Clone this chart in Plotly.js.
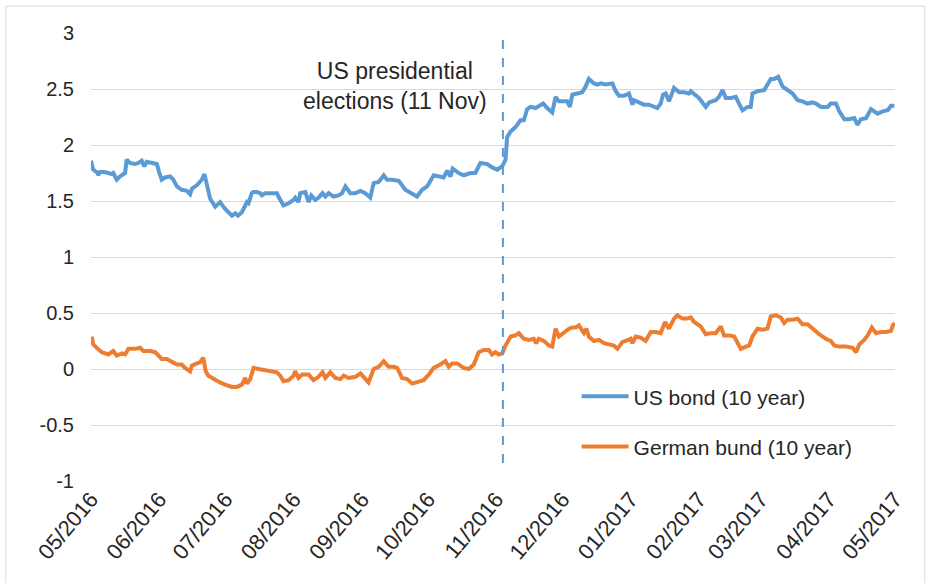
<!DOCTYPE html>
<html>
<head>
<meta charset="utf-8">
<script src="https://cdn.plot.ly/plotly-3.0.1.min.js"></script>
<style>html,body{margin:0;padding:0;background:#fff;}#chart{width:931px;height:583px;}</style>
</head>
<body>
<div id="chart"></div>
<script>
// Days since 2016-05-01 and yields (%)
const startDate = '2016-05-01';
const usDays = [0,1,3,3.3,4.1,5.6,7.9,9.4,10.1,11.7,13.2,15.5,16.2,17.7,20,21.5,23,24.2,25.3,27.6,29.9,30.9,32.1,33.6,35.9,37.4,39,41.2,43.5,45,45.8,48,49.5,50.3,51.5,52.6,54.1,56.4,58.6,60.9,64,65.5,66.7,68.5,70,70.8,71.5,73,73.8,75.3,76.8,77.6,79.1,84.4,85.1,87.4,89.7,92,92.7,94.2,95,97.3,98.8,100,101.8,103.3,105.1,106.4,107.9,110.1,112.4,114,115.5,117.7,120,122.3,124.5,126.8,128.3,130.6,132.9,134.4,136.7,139.7,142.7,145.8,148,150.3,152.6,155.6,158.6,160.1,161.7,163.2,164.2,166.9,169.2,172.3,174.5,176.8,179.9,182.1,184.4,186.7,188.2,188.9,190.5,192.7,195,196.5,198,199.5,201.8,204.1,205.3,207.1,209.4,210.9,212.4,214.7,216.2,217.4,218.5,220.8,223,224.5,226,228.3,229.9,231.4,233.6,236.7,238.2,239.7,242,244.2,245.8,246.5,248.8,251,253.3,255.6,257.1,258.6,259.7,260.9,262.4,264.7,267,269.2,271.5,272.3,273.8,276,279.1,280.6,283.6,285.1,286.7,288.2,290.5,292.7,294.2,295.8,298,299.5,300.3,302.6,305.6,307.1,308.6,310.1,312,314,316.2,318.5,320.8,323,325.3,327.6,329.1,331.4,334.4,335.9,338.2,339.7,342,344.2,346.5,348,349.5,351.8,354.1,357.1,359.4,361.7,363.2,364.7];
const usBond = [1.86,1.78,1.75,1.73,1.76,1.76,1.75,1.74,1.75,1.69,1.72,1.75,1.87,1.84,1.83,1.84,1.86,1.81,1.85,1.84,1.83,1.76,1.69,1.71,1.72,1.69,1.63,1.60,1.59,1.56,1.61,1.64,1.67,1.69,1.74,1.64,1.52,1.45,1.49,1.43,1.37,1.39,1.37,1.40,1.45,1.49,1.48,1.57,1.58,1.58,1.57,1.55,1.57,1.57,1.54,1.46,1.48,1.51,1.53,1.49,1.57,1.58,1.49,1.55,1.51,1.53,1.57,1.54,1.57,1.54,1.55,1.57,1.63,1.57,1.57,1.59,1.57,1.53,1.66,1.67,1.73,1.69,1.69,1.68,1.60,1.57,1.54,1.60,1.63,1.73,1.72,1.71,1.77,1.72,1.79,1.75,1.73,1.75,1.75,1.84,1.83,1.80,1.78,1.81,1.87,2.07,2.12,2.16,2.22,2.22,2.32,2.34,2.33,2.36,2.37,2.33,2.29,2.43,2.39,2.39,2.39,2.34,2.45,2.46,2.47,2.52,2.59,2.55,2.54,2.55,2.54,2.55,2.48,2.44,2.44,2.46,2.36,2.40,2.38,2.36,2.36,2.34,2.33,2.37,2.45,2.46,2.39,2.51,2.47,2.47,2.46,2.48,2.46,2.42,2.34,2.38,2.40,2.43,2.49,2.42,2.42,2.43,2.37,2.31,2.34,2.34,2.46,2.48,2.49,2.55,2.59,2.59,2.61,2.52,2.49,2.46,2.40,2.39,2.37,2.38,2.37,2.34,2.34,2.37,2.37,2.30,2.23,2.23,2.24,2.18,2.23,2.24,2.32,2.28,2.30,2.31,2.35,2.35];
const deDays = [0.3,1,2.6,4.9,7.9,10.1,11.7,14,15.5,17,20,22.3,23.8,26.8,29.1,32.1,34.4,36.7,39,41.2,42.7,45,45.8,48,49.5,51,52.1,53.3,55.6,58.6,60.9,64,66.2,68.5,70,70.8,72.3,73.8,76,79.1,82.1,84.4,85.9,87.4,89.7,92,92.7,94.2,95.8,98.8,101,103.3,105.1,106.4,108.6,110.9,113.2,114.7,117,120,122.3,126,128.3,130.6,132.9,135.1,137.4,139,141.2,143.5,145.8,148.8,151,153.3,155.6,158.6,160.9,162.4,164,166.2,169.2,171.5,173.8,176,178.3,180.6,182.1,183.6,185.1,186.7,188.2,190.5,192.7,194.2,196.5,198.8,201,202.1,203.3,205.6,207.9,209.4,210.9,212.4,214.7,217,218.5,220,221.5,223.8,224.9,226,228.3,230.6,232.9,235.1,237.4,239,241.2,242.7,245,245.8,247.3,249.5,251.8,254.1,256.4,258.6,260.6,262.4,264.7,266.2,268.5,270.8,272.3,273.8,276.8,279.1,281.4,283.6,285.9,287.4,289.7,292,295,297.3,298.8,300.3,302.6,304.9,307.1,308.6,310.9,313.2,314.7,316.2,318.5,320.8,323,325.3,327.6,330.6,333.6,335.9,337.4,339.7,342.7,345.8,347.3,348.8,351,352.6,354.5,356.4,358.6,360.9,363.2,364,365];
const deBund = [0.29,0.22,0.19,0.15,0.13,0.16,0.12,0.14,0.13,0.18,0.18,0.19,0.16,0.16,0.15,0.09,0.09,0.06,0.04,0.04,0.01,-0.02,0.03,0.05,0.06,0.10,-0.02,-0.06,-0.09,-0.12,-0.14,-0.16,-0.16,-0.14,-0.08,-0.13,-0.09,0.01,0.00,-0.01,-0.02,-0.03,-0.06,-0.11,-0.10,-0.06,-0.02,-0.08,-0.05,-0.05,-0.10,-0.07,-0.03,-0.08,-0.03,-0.08,-0.09,-0.06,-0.08,-0.07,-0.04,-0.12,0.00,0.02,0.07,0.02,0.02,0.01,-0.08,-0.09,-0.13,-0.11,-0.10,-0.05,0.01,0.04,0.07,0.02,0.05,0.05,0.01,0.00,0.04,0.15,0.17,0.17,0.13,0.15,0.13,0.14,0.21,0.29,0.30,0.32,0.27,0.26,0.27,0.23,0.27,0.25,0.21,0.20,0.36,0.29,0.33,0.36,0.37,0.37,0.39,0.32,0.36,0.29,0.25,0.26,0.23,0.22,0.21,0.18,0.24,0.25,0.27,0.23,0.29,0.28,0.25,0.33,0.33,0.32,0.42,0.36,0.45,0.48,0.45,0.45,0.46,0.42,0.38,0.31,0.32,0.32,0.38,0.30,0.30,0.29,0.18,0.20,0.21,0.29,0.36,0.35,0.36,0.47,0.48,0.46,0.41,0.44,0.44,0.45,0.40,0.40,0.36,0.31,0.27,0.25,0.21,0.20,0.20,0.19,0.15,0.22,0.26,0.30,0.37,0.32,0.33,0.33,0.34,0.39,0.41];
const seriesNames = ['US bond (10 year)', 'German bund (10 year)'];
const electionDate = '2016-11-04';
const electionLabel = 'US presidential<br>elections (11 Nov)';
const xRange = ['2016-05-01', '2017-05-01'];
const yTicks = [-1, -0.5, 0, 0.5, 1, 1.5, 2, 2.5, 3];

function toDate(d) {
  return new Date(Date.parse(startDate + 'T00:00:00Z') + d * 86400000).toISOString().slice(0, 16).replace('T', ' ');
}

const FONT = 'Liberation Sans, Arial, sans-serif';
const traces = [
  {x: usDays.map(toDate), y: usBond, name: seriesNames[0], type: 'scatter', mode: 'lines',
   line: {color: '#5B9BD5', width: 4}, legendgroup: 'a'},
  {x: deDays.map(toDate), y: deBund, name: seriesNames[1], type: 'scatter', mode: 'lines',
   line: {color: '#ED7D31', width: 4}, legendgroup: 'b'}
];

const layout = {
  width: 931, height: 583,
  margin: {l: 91, r: 36, t: 33, b: 102},
  paper_bgcolor: '#ffffff', plot_bgcolor: '#ffffff',
  font: {family: FONT, size: 17, color: '#262626'},
  showlegend: true,
  legend: {x: 0.604, y: 0.234, xanchor: 'left', yanchor: 'top', bgcolor: 'rgba(0,0,0,0)',
           font: {family: FONT, size: 21, color: '#262626'}, tracegroupgap: 20, itemwidth: 47},
  xaxis: {type: 'date', range: xRange, tickformat: '%m/%Y', dtick: 'M1', tick0: '2016-05-01',
          tickangle: -50, showgrid: false, zeroline: false, showline: false, ticks: '',
          tickfont: {family: FONT, size: 22, color: '#262626'}},
  xaxis2: {type: 'date', range: xRange, dtick: 'M1', tick0: '2016-05-01', overlaying: 'x',
           anchor: 'free', position: 0.25, showline: true, linecolor: '#d9d9d9', linewidth: 1,
           ticks: 'outside', ticklen: 5, tickcolor: '#d9d9d9', showticklabels: false, showgrid: false, zeroline: false},
  yaxis: {range: [-1, 3], tickvals: yTicks, ticktext: yTicks.map(String), showgrid: true, gridcolor: '#d9d9d9',
          gridwidth: 1, zeroline: false, showline: false, ticks: '', ticklabelstandoff: 16,
          tickfont: {family: FONT, size: 20, color: '#262626'}},
  shapes: [
    {type: 'line', xref: 'x', yref: 'y', x0: electionDate, x1: electionDate, y0: -0.84, y1: 3,
     line: {color: '#5B9BD5', width: 2, dash: 'dash'}},
    {type: 'rect', xref: 'paper', yref: 'paper', x0: -0.106, x1: 1.037, y0: -0.25, y1: 1.06,
     line: {color: '#d9d9d9', width: 1}, fillcolor: 'rgba(0,0,0,0)', layer: 'below'}
  ],
  annotations: [
    {x: '2016-09-16', y: 2.53, xref: 'x', yref: 'y', text: electionLabel, showarrow: false,
     align: 'center', font: {family: FONT, size: 23, color: '#262626'}}
  ]
};

Plotly.newPlot('chart', traces, layout, {displayModeBar: false, staticPlot: true});
</script>
</body>
</html>
